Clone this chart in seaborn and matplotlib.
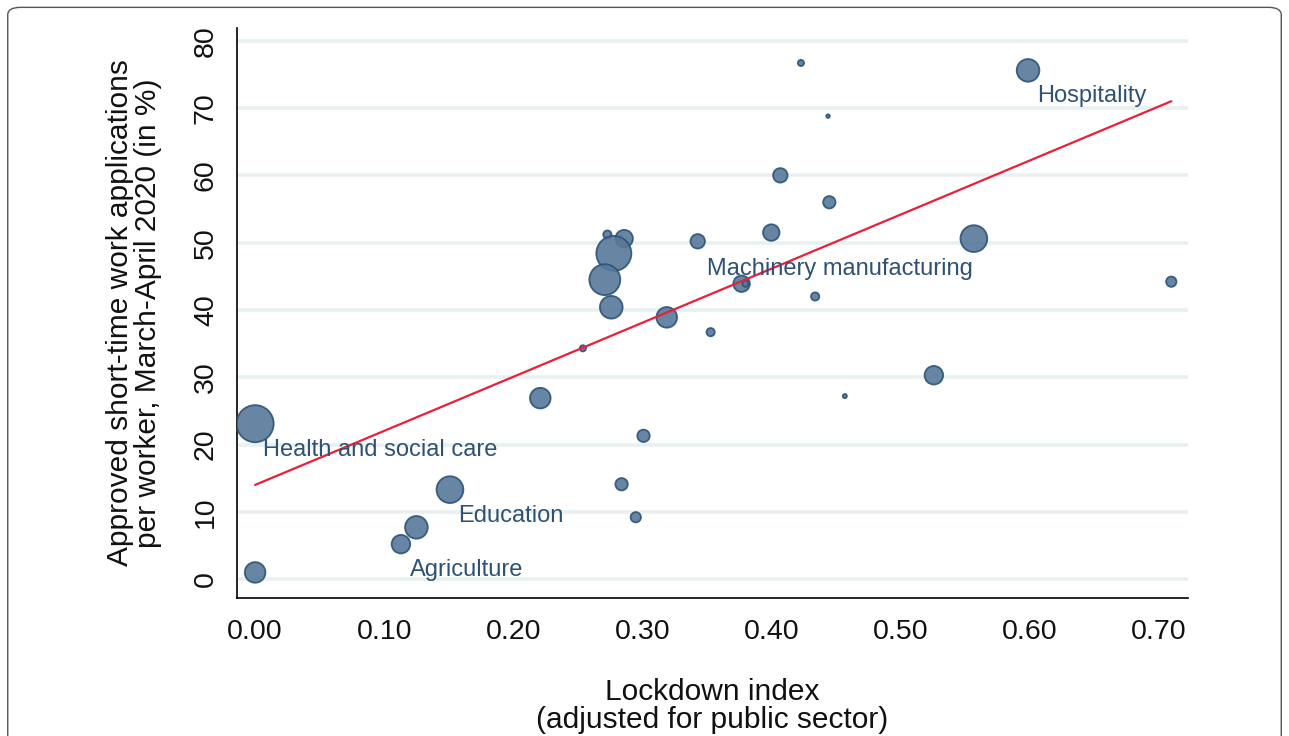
import matplotlib
matplotlib.use("Agg")
import matplotlib.pyplot as plt
import pandas as pd
import seaborn as sns
from matplotlib.patches import FancyBboxPatch

# lockdown index (adjusted for public sector)
lockdown = [0.000, 0.000, 0.113, 0.125, 0.151, 0.221, 0.254, 0.273, 0.286, 0.278,
            0.271, 0.276, 0.319, 0.343, 0.353, 0.301, 0.284, 0.295, 0.377, 0.380,
            0.400, 0.407, 0.423, 0.444, 0.445, 0.434, 0.457, 0.526, 0.557, 0.599,
            0.710]
# approved short-time work applications per worker (%)
stw_share = [23.1, 1.0, 5.2, 7.7, 13.3, 26.9, 34.3, 51.2, 50.6, 48.4,
             44.5, 40.4, 38.9, 50.2, 36.7, 21.3, 14.1, 9.2, 43.9, 43.9,
             51.5, 60.0, 76.7, 68.8, 56.0, 42.0, 27.2, 30.3, 50.6, 75.6,
             44.2]
# employment weight (marker area)
weight = [324, 100, 81, 121, 169, 100, 9, 16, 72, 289,
          225, 121, 100, 49, 16, 36, 36, 25, 64, 9,
          64, 49, 9, 3, 36, 16, 4, 81, 169, 121,
          25]

# labelled sectors
label_names = ["Hospitality", "Machinery manufacturing", "Health and social care",
               "Education", "Agriculture"]
label_x = [0.606, 0.350, 0.006, 0.157, 0.120]
label_y = [70.9, 45.2, 18.3, 8.5, 0.45]

# fitted line (intercept, slope)
fit_intercept = 14.0
fit_slope = 80.3

df = pd.DataFrame({"lockdown": lockdown, "stw": stw_share, "w": weight})

sns.set_style("white")
plt.rcParams["font.family"] = ["Liberation Sans", "DejaVu Sans"]
plt.rcParams["text.color"] = "#111111"
plt.rcParams["axes.labelcolor"] = "#111111"
plt.rcParams["xtick.color"] = "#111111"
plt.rcParams["ytick.color"] = "#111111"

fig = plt.figure(figsize=(12.89, 7.36), dpi=100)
fig.patches.append(FancyBboxPatch((0.006, -0.02), 0.988, 1.01, boxstyle="round,pad=0,rounding_size=0.01",
                                  transform=fig.transFigure, facecolor="white",
                                  edgecolor="#555555", linewidth=1.0, zorder=-1))
ax = fig.add_axes([0.1839, 0.1875, 0.7378, 0.7745])
ax.set_facecolor("none")

for yv in range(0, 90, 10):
    ax.axhline(yv, color="#e9f0f1", linewidth=2.6, zorder=0)

sns.scatterplot(data=df, x="lockdown", y="stw", size="w", sizes=(min(weight) * 2.2, max(weight) * 2.2),
                size_norm=(min(weight), max(weight)),
                color="#587899", edgecolor="#2c5377", linewidth=1.3, alpha=0.9,
                legend=False, ax=ax, zorder=3)

xs = pd.Series([0.0, max(lockdown)])
ax.plot(xs, fit_intercept + fit_slope * xs, color="#e8203a", linewidth=1.6, zorder=4)

for name, lx, ly in zip(label_names, label_x, label_y):
    ax.text(lx, ly, name, color="#2e5174", fontsize=17, ha="left", va="baseline", zorder=5)

ax.set_xlim(-0.014, 0.723)
ax.set_ylim(-2.8, 81.9)
ax.set_xticks([0.0, 0.1, 0.2, 0.3, 0.4, 0.5, 0.6, 0.7])
ax.set_xticklabels([f"{v:.2f}" for v in ax.get_xticks()], fontsize=20.5)
ax.set_yticks(range(0, 90, 10))
ax.set_yticklabels([str(v) for v in range(0, 90, 10)], fontsize=20.5, rotation=90, va="center")
ax.tick_params(axis="both", direction="out", length=9, width=1.2, color="black", pad=6)
ax.tick_params(axis="y", pad=4)
for side in ["top", "right"]:
    ax.spines[side].set_visible(False)
for side in ["left", "bottom"]:
    ax.spines[side].set_color("black")
    ax.spines[side].set_linewidth(1.2)

ax.set_xlabel("Lockdown index\n(adjusted for public sector)", fontsize=21.5, labelpad=24, linespacing=1.0)
ax.set_ylabel("Approved short-time work applications\nper worker, March-April 2020 (in %)", fontsize=21.5,
              labelpad=22, linespacing=1.0)

fig.savefig("out.png", dpi=100)
